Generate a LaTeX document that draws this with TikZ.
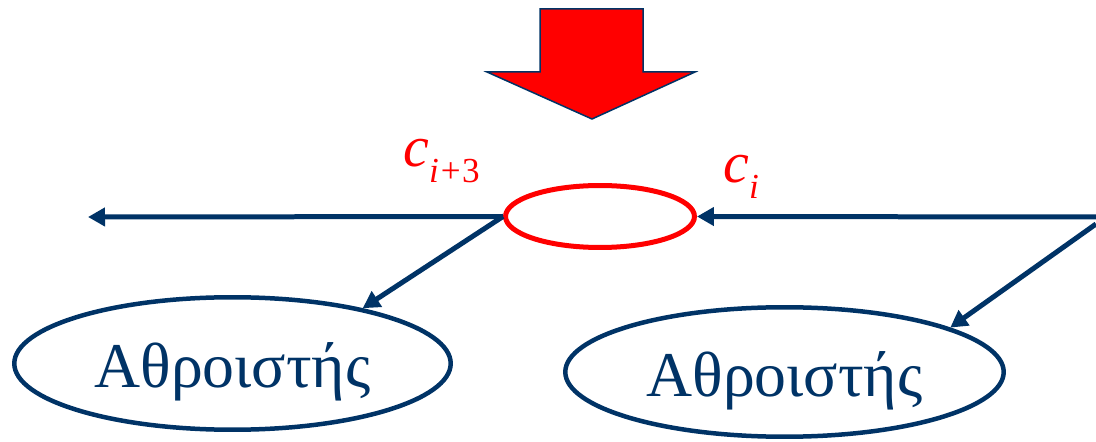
\documentclass[tikz,border=0pt]{standalone}
\usepackage{fontspec}
\setmainfont{Liberation Serif}
\usepackage{xcolor}
\definecolor{adNavy}{RGB}{0,51,102}
\definecolor{adRed}{RGB}{255,0,0}
\usepackage{tikz}
\usetikzlibrary{positioning,arrows.meta,shapes.geometric}
\tikzset{
  ad-adder/.style={draw=adNavy,ellipse,line width=0.09cm,inner sep=0pt,
    text=adNavy,font=\fontsize{36.3}{40}\selectfont,text height=1.0cm,text depth=0.02cm},
  ad-carry/.style={draw=adRed,ellipse,line width=0.1cm,inner sep=0pt,
    minimum width=3.78cm,minimum height=1.24cm},
  ad-lbl/.style={text=adRed,inner sep=0pt,anchor=base west,
    font=\fontsize{33}{34}\selectfont},
  ad-arrow/.style={-{Triangle[length=0.34cm,width=0.36cm]},adNavy,line width=0.1cm},
}
\newcommand{\adsub}[1]{\raisebox{-0.32cm}{\fontsize{20}{20}\selectfont #1}}

\begin{document}
\begin{tikzpicture}[x=0.02cm,y=-0.02cm]
  \useasboundingbox (0,0) rectangle (1096,442);

  % big input arrow
  \filldraw[fill=adRed,draw=adNavy,line width=0.03cm,line join=miter]
    (540,9) -- (643,9) -- (643,72) -- (695,72) -- (592,119)
    -- (487,72) -- (540,72) -- cycle;

  % carry cell
  \node[ad-carry] (carry) at (600,216.5) {};
  \node[ad-lbl] (cout) at (403,167) {\textit{c}\adsub{\textit{i}\kern0.04cm+\kern0.03cm3}};
  \node[ad-lbl] (cin) at (723,183) {\textit{c}\adsub{\textit{i}}};

  % adders
  \node[ad-adder,minimum width=8.73cm,minimum height=2.65cm] (addL) at (232.5,363.5) {Αθροιστής};
  \node[ad-adder,minimum width=8.77cm,minimum height=2.59cm] (addR) at (784.5,372) {Αθροιστής};

  % edges
  \coordinate (outL) at (88,217);
  \coordinate (inR) at (1096,217);
  \coordinate (inRd) at (1096,224);
  \draw[ad-arrow] (carry.west) -- (outL);
  \draw[ad-arrow] (inR) -- (carry.east);
  \draw[ad-arrow] (carry.west) -- (addL.23);
  \draw[ad-arrow] (inRd) -- (addR.15);
\end{tikzpicture}
\end{document}
